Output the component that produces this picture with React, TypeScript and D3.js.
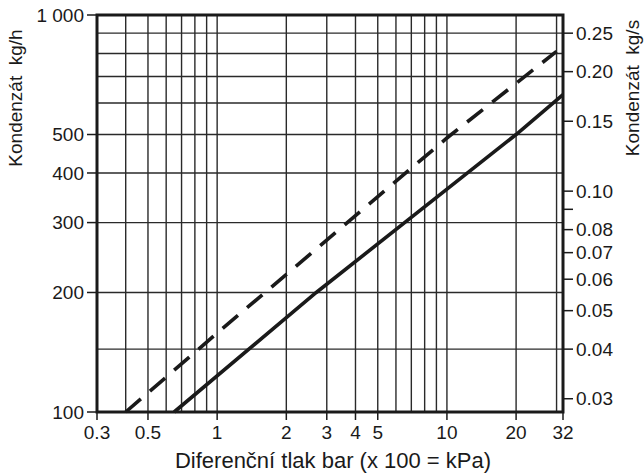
import React from "react";
import * as d3 from "d3";

const xTickValues = [0.3, 0.5, 1, 2, 3, 4, 5, 10, 20, 32];
const xTickLabels = ["0.3", "0.5", "1", "2", "3", "4", "5", "10", "20", "32"];
const xGridValues = [0.4, 0.5, 0.6, 0.7, 0.8, 0.9, 1, 2, 3, 4, 5, 6, 7, 8, 9, 10, 20, 30];
const yTickValues = [100, 200, 300, 400, 500, 1000];
const yTickLabels = ["100", "200", "300", "400", "500", "1 000"];
const yGridValues = [144, 200, 300, 400, 500, 600, 700, 800, 900];
const rightTickValues = [0.03, 0.04, 0.05, 0.06, 0.07, 0.08, 0.09, 0.1, 0.15, 0.2, 0.25];
const rightTickLabels = ["0.03", "0.04", "0.05", "0.06", "0.07", "0.08", "", "0.10", "0.15", "0.20", "0.25"];

const solidX = [0.65, 2.7, 20, 32];
const solidY = [100, 200, 500, 630];
const dashedX = [0.4, 1, 10, 30];
const dashedY = [100, 158, 490, 810];

const W = 644, H = 476;
const L = 97, R = 563, T = 15, B = 412;
const FONT = "'Liberation Sans', Arial, Helvetica, sans-serif";
const FS = 19;

export default function App() {
  const x = d3.scaleLog().domain([0.3, 32]).range([L, R]);
  const y = d3.scaleLog().domain([100, 1000]).range([B, T]);
  const yR = (v: number) => y(v * 3600);
  const line = d3.line<[number, number]>().x(d => x(d[0])).y(d => y(d[1]));
  const solid = solidX.map((v, i) => [v, solidY[i]] as [number, number]);
  const dashed = dashedX.map((v, i) => [v, dashedY[i]] as [number, number]);
  const ink = "#1a1a1a";
  return (
    <svg width={W} height={H} style={{ position: "absolute", left: 0, top: 0, background: "#fff" }} fontFamily={FONT}>
      {xGridValues.map((v, i) => (
        <line key={"gx" + i} x1={x(v)} x2={x(v)} y1={T} y2={B} stroke="#2a2a2a" strokeWidth={1.4} />
      ))}
      {yGridValues.map((v, i) => (
        <line key={"gy" + i} x1={L} x2={R} y1={y(v)} y2={y(v)} stroke="#2a2a2a" strokeWidth={1.4} />
      ))}
      <path d={line(dashed) || ""} fill="none" stroke={ink} strokeWidth={3.6} strokeDasharray="20 12" />
      <path d={line(solid) || ""} fill="none" stroke={ink} strokeWidth={3.6} />
      <rect x={L} y={T} width={R - L} height={B - T} fill="none" stroke={ink} strokeWidth={3} />
      {yTickValues.map((v, i) => (
        <g key={"yt" + i}>
          <line x1={L - 10} x2={L} y1={y(v)} y2={y(v)} stroke={ink} strokeWidth={1.5} />
          <text x={L - 13} y={y(v)} dy="0.35em" textAnchor="end" fontSize={FS} fill={ink}>{yTickLabels[i]}</text>
        </g>
      ))}
      {rightTickValues.map((v, i) => (
        <g key={"rt" + i}>
          <line x1={R} x2={R + 10} y1={yR(v)} y2={yR(v)} stroke={ink} strokeWidth={1.5} />
          {rightTickLabels[i] && (
            <text x={R + 13} y={yR(v)} dy="0.35em" textAnchor="start" fontSize={FS} fill={ink}>{rightTickLabels[i]}</text>
          )}
        </g>
      ))}
      {xTickValues.map((v, i) => (
        <g key={"xt" + i}>
          <line x1={x(v)} x2={x(v)} y1={B} y2={B + 8} stroke={ink} strokeWidth={1.5} />
          <text x={x(v)} y={B + 27} textAnchor="middle" fontSize={FS} fill={ink}>{xTickLabels[i]}</text>
        </g>
      ))}
      <text x={333} y={468} textAnchor="middle" fontSize={22} fill={ink}>Diferenční tlak bar (x 100 = kPa)</text>
      <text transform={`translate(22,98) rotate(-90)`} textAnchor="middle" fontSize={FS} fill={ink} style={{ whiteSpace: "pre" }}>{"Kondenzát  kg/h"}</text>
      <text transform={`translate(639,88) rotate(-90)`} textAnchor="middle" fontSize={FS} fill={ink} style={{ whiteSpace: "pre" }}>{"Kondenzát  kg/s"}</text>
    </svg>
  );
}
